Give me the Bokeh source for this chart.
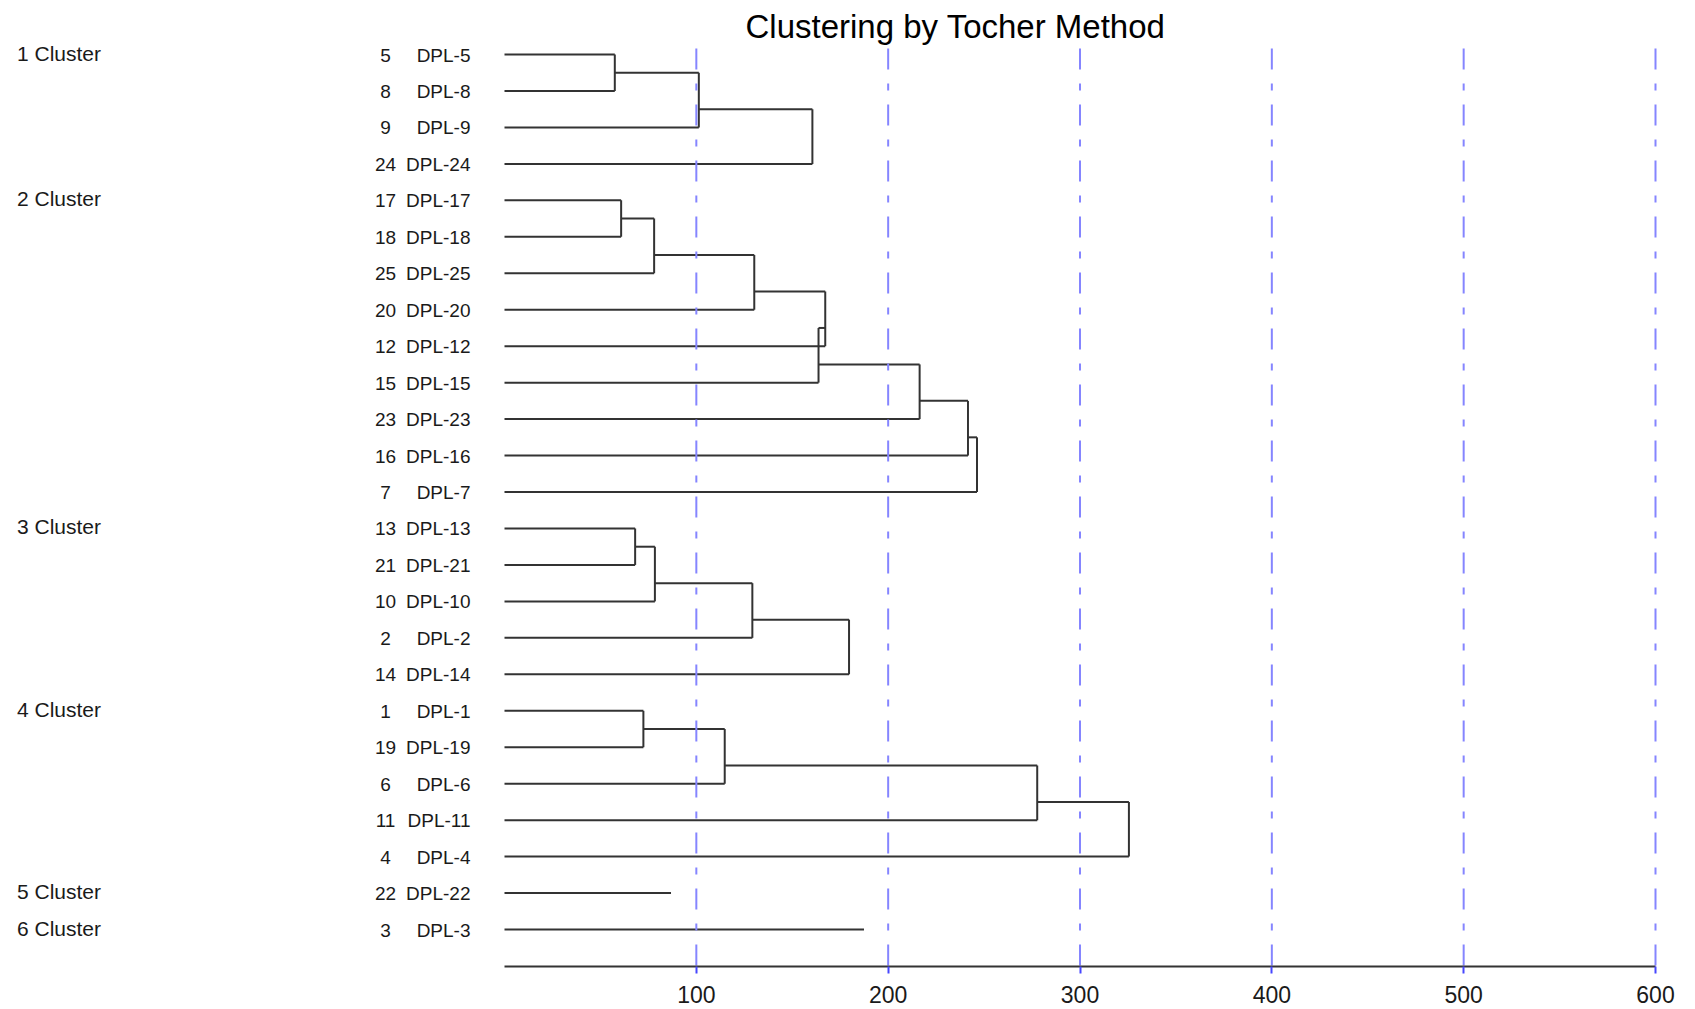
from bokeh.plotting import figure
from bokeh.models import Range1d, LinearAxis, FixedTicker
from bokeh.embed import file_html
from bokeh.resources import INLINE
from bokeh.core.properties import value

# ---------------- data ----------------
title_text = "Clustering by Tocher Method"
cluster_labels = ["1 Cluster", "2 Cluster", "3 Cluster", "4 Cluster", "5 Cluster", "6 Cluster"]
cluster_members = [
    [5, 8, 9, 24],
    [17, 18, 25, 20, 12, 15, 23, 16, 7],
    [13, 21, 10, 2, 14],
    [1, 19, 6, 11, 4],
    [22],
    [3],
]
# heights at which each successive member joins its cluster (singletons: line length)
merge_heights = [
    [57.5, 101.3, 160.5],
    [60.8, 78.0, 130.2, 167.2, 163.7, 216.4, 241.6, 246.3],
    [68.1, 78.4, 129.2, 179.6],
    [72.4, 114.8, 277.7, 325.5],
    [86.8],
    [187.4],
]
tick_values = [100, 200, 300, 400, 500, 600]
axis_bounds = (0, 600)

# ---------------- layout constants (pixels) ----------------
W, H = 1695, 1009
X0_PX = 504.0
PX_PER_UNIT = 1151.0 / 600.0
ROW0_PX = 54.0
ROW_STEP = 36.46
FRAME_BOTTOM = 966.0
FONT = "Liberation Sans"


def px_x(px):
    return (px - X0_PX) / PX_PER_UNIT


def px_y(py):
    return (py - ROW0_PX) / ROW_STEP


p = figure(width=W, height=H, output_backend="svg", toolbar_location=None,
           x_axis_type=None, y_axis_type=None,
           x_range=Range1d(px_x(0), px_x(W)),
           y_range=Range1d(px_y(FRAME_BOTTOM), px_y(0)),
           min_border_left=0, min_border_right=0, min_border_top=0,
           min_border_bottom=int(H - FRAME_BOTTOM))
p.outline_line_color = None
p.grid.visible = False
p.background_fill_color = "white"
p.border_fill_color = "white"

# ---------------- build dendrogram segments ----------------
x0s, y0s, x1s, y1s = [], [], [], []
row_nums, row_names, row_y = [], [], []
clab_y = []
row = 0
for members, heights in zip(cluster_members, merge_heights):
    rows = list(range(row, row + len(members)))
    clab_y.append(rows[0])
    for m, r in zip(members, rows):
        row_nums.append(str(m))
        row_names.append("DPL-%d" % m)
        row_y.append(r)
    if len(members) == 1:
        x0s.append(0); y0s.append(rows[0]); x1s.append(heights[0]); y1s.append(rows[0])
    else:
        x0s.append(0); y0s.append(rows[0]); x1s.append(heights[0]); y1s.append(rows[0])
        prev_y = rows[0]
        prev_h = None
        for k in range(1, len(members)):
            h = heights[k - 1]
            r = rows[k]
            x0s.append(0); y0s.append(r); x1s.append(h); y1s.append(r)
            if prev_h is not None:
                x0s.append(prev_h); y0s.append(prev_y); x1s.append(h); y1s.append(prev_y)
            x0s.append(h); y0s.append(prev_y); x1s.append(h); y1s.append(r)
            prev_y = r - 0.5
            prev_h = h
    row += len(members)

n_rows = row

p.segment(x0=x0s, y0=y0s, x1=x1s, y1=y1s, line_color="#333333", line_width=2)

# blue dash-dot reference lines
top_y = px_y(48)
p.segment(x0=tick_values, y0=[top_y] * len(tick_values), x1=tick_values,
          y1=[n_rows] * len(tick_values), line_color="#8585ff", line_width=2,
          line_dash="21 14 7 14")

# ---------------- texts ----------------
p.text(x=[px_x(385)] * len(row_nums), y=row_y, text=row_nums,
       text_font=value(FONT), text_font_size="19px", text_color="#1a1a1a",
       text_align="center", text_baseline="alphabetic", y_offset=0.5)
p.text(x=[px_x(470)] * len(row_names), y=row_y, text=row_names,
       text_font=value(FONT), text_font_size="19px", text_color="#1a1a1a",
       text_align="right", text_baseline="alphabetic", y_offset=0.5)
p.text(x=[px_x(16.5)] * len(cluster_labels), y=clab_y, text=cluster_labels,
       text_font=value(FONT), text_font_size="21px", text_color="#1a1a1a",
       text_align="left", text_baseline="alphabetic", y_offset=-1.5)
p.text(x=[px_x(955)], y=[px_y(26)], text=[title_text],
       text_font=value(FONT), text_font_size="33px", text_color="black",
       text_align="center", text_baseline="alphabetic")

# ---------------- x axis ----------------
ax = LinearAxis(ticker=FixedTicker(ticks=tick_values), bounds=axis_bounds)
ax.axis_line_color = "#333333"
ax.axis_line_width = 2
ax.major_tick_in = 0
ax.major_tick_out = 7
ax.major_tick_line_color = "#4747ff"
ax.major_tick_line_width = 2
ax.minor_tick_line_color = None
ax.major_label_text_font = FONT
ax.major_label_text_font_size = "23px"
ax.major_label_text_color = "#1a1a1a"
ax.major_label_standoff = 12
p.add_layout(ax, "below")

open("out.html", "w").write(file_html(p, INLINE))
